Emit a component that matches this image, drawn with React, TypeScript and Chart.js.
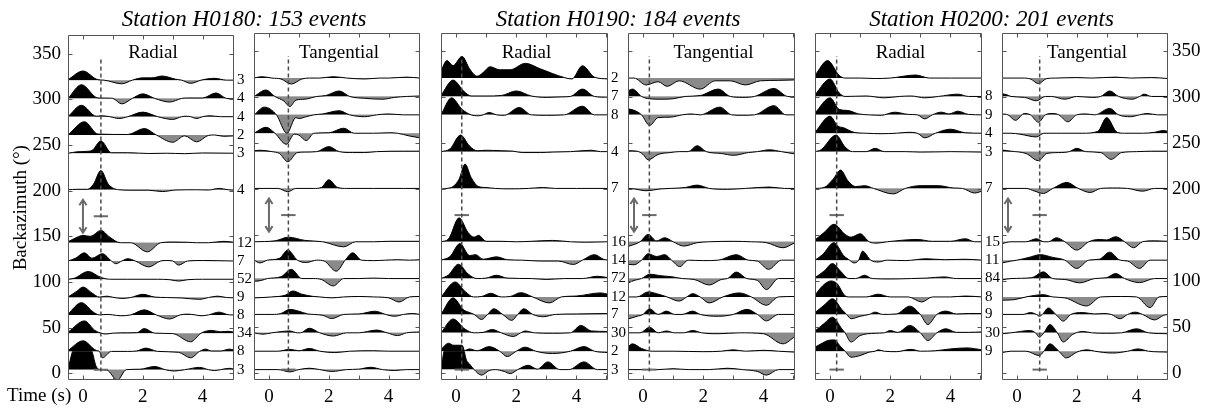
import React, { useEffect, useRef } from 'react';
import { Chart, registerables } from 'chart.js';

Chart.register(...registerables);

// ------------------------------------------------------------------ data
const TIME_RANGE = [-0.5, 5.05];
const BAZ_RANGE = [-7.3, 370];
const TIME_TICKS = [0, 1, 2, 3, 4, 5];
const TIME_LABELS = ['0', '', '2', '', '4', ''];
const BAZ_TICKS = [0, 50, 100, 150, 200, 250, 300, 350];

const STATIONS = ['H0180', 'H0190', 'H0200'];
const EVENT_TOTALS = [153, 184, 201];
const COMPONENTS = ['Radial', 'Tangential'];

// backazimuth bins (baseline of each stacked trace) and number of events
const BAZ_H0180 = [321, 301, 281, 261, 241, 201, 143, 123, 103, 83, 64, 44, 24, 4];
const COUNTS_H0180 = [3, 4, 4, 2, 3, 4, 12, 7, 52, 9, 8, 34, 8, 3];
const BAZ_H0190 = [321, 301, 281, 241, 201, 143, 123, 103, 83, 64, 44, 24, 4];
const COUNTS_H0190 = [2, 7, 8, 4, 7, 16, 14, 72, 12, 7, 30, 2, 3];
const BAZ_H0200 = [321, 301, 281, 261, 241, 201, 143, 123, 103, 83, 64, 44, 24];
const COUNTS_H0200 = [null, 8, 9, 4, 3, 7, 15, 11, 84, 8, 9, 30, 9];

// traces: [time, amplitude, time, amplitude, ...] (amplitude in plotted units)
const RADIAL_H0180 = [
  [-0.5,0.5, 0,10, 0.5,0.5, 0.7,0, 1.3,-4, 1.65,0, 2.0,2.5, 2.3,2.5, 2.65,4.5, 3.1,1, 3.3,0, 3.6,-3.5, 3.95,0, 4.4,2, 4.8,0, 5.05,0],
  [-0.5,0, -0.05,15, 0.5,0.5, 0.9,0.3, 1.0,0, 1.3,-6, 1.65,0, 2.0,5, 2.4,0, 2.9,-4, 3.3,0, 3.5,0.5, 4.0,0.5, 4.45,6, 4.8,0, 5.05,-0.5],
  [-0.5,0, -0.05,12.5, 0.45,0.5, 0.6,1, 0.9,0, 1.2,-2, 1.5,0, 2.0,5, 2.5,0, 3.0,-3, 3.3,0, 3.45,0.5, 3.6,0, 3.8,-2, 4.0,0, 4.25,1, 4.6,0, 5.05,0],
  [-0.5,0, 0.05,14.5, 0.5,1, 1.5,0.5, 2.05,7, 2.45,0, 3.0,-8, 3.4,-1, 3.8,-7.5, 4.2,-0.5, 4.4,0, 4.7,-1.5, 5.05,-1],
  [-0.5,0, -0.2,1.5, 0.1,2, 0.3,3, 0.6,13.5, 0.95,0.5, 1.5,0.5, 2.2,-0.3, 2.8,0, 3.4,-0.5, 4.0,0.3, 5.05,0],
  [-0.5,0, -0.2,0.5, 0.15,0.5, 0.35,6, 0.6,21, 0.85,6, 1.2,0, 1.6,-0.5, 2.2,-0.5, 2.65,-2, 3.1,-0.3, 3.8,0, 4.2,-0.3, 4.55,1.5, 4.85,0, 5.05,-0.5],
  [-0.5,1, -0.2,6, 0,8, 0.25,7, 0.6,13.5, 0.9,6, 1.25,0, 1.6,0, 2.15,-10, 2.6,0, 3.0,0.8, 3.5,0.5, 3.8,0, 4.2,0, 4.7,1.5, 5.05,0.5],
  [-0.5,0, -0.25,3, 0.05,9, 0.3,3, 0.65,8, 0.95,0, 1.1,-3, 1.3,0, 1.5,2.5, 1.75,0, 2.2,-6.5, 2.6,0, 2.8,0.5, 3.0,0, 3.2,-4.5, 3.5,0, 4.0,0.5, 4.5,0.3, 5.05,0],
  [-0.5,0, -0.3,1, 0.18,8.5, 0.6,2, 0.93,0, 1.5,0, 2.5,0, 2.9,-0.5, 3.2,-2, 3.5,-0.5, 4.0,0, 5.05,0],
  [-0.5,0.5, -0.2,7, 0,11.5, 0.3,5, 0.55,0.5, 0.8,1.5, 1.0,0.3, 1.3,-1, 1.6,0, 2.0,3.5, 2.4,0.5, 2.8,0, 3.3,-0.5, 3.9,-2, 4.2,0, 4.5,1.5, 4.8,0, 5.05,-0.3],
  [-0.5,1, -0.05,13.4, 0.35,3, 0.55,0, 0.8,0.5, 1.0,0, 1.25,-1, 1.6,0, 2.05,5.5, 2.45,0, 2.9,-4.5, 3.25,0, 3.5,0.8, 3.75,0, 3.95,-1, 4.2,0, 4.55,3, 4.9,0, 5.05,0],
  [-0.5,1, 0.05,13.4, 0.4,3, 0.6,0, 0.75,-1, 1.0,0, 1.5,0.3, 1.8,0.5, 2.05,5, 2.4,0, 3.0,-0.5, 3.6,-9.5, 3.95,0, 4.3,3, 4.6,1.5, 4.85,2, 5.05,1],
  [-0.5,1, 0,11.6, 0.45,1, 0.55,0, 0.65,-7, 0.95,0, 1.5,0, 1.8,0.5, 2.1,3.6, 2.5,0, 3.2,-1, 3.6,-7, 3.9,0, 4.1,2.5, 4.3,0.5, 4.6,0.5, 4.9,2.5, 5.05,1.5],
  [-0.5,0, -0.35,20, -0.25,26, 0.1,26.5, 0.3,20, 0.45,3, 0.6,0, 0.8,-0.5, 1.15,-11.6, 1.45,0, 1.9,0.5, 2.4,3.5, 2.75,0, 3.05,-1.5, 3.4,0, 3.9,2.5, 4.2,0, 4.4,-1, 4.6,0, 4.9,1.5, 5.05,0.5],
];
const TANGENTIAL_H0180 = [
  [-0.5,0, -0.25,1.5, 0.1,0, 0.4,-1, 0.75,-6.5, 1.1,-1, 1.35,0, 1.7,0, 2.15,1.5, 2.6,0, 3.2,-1, 3.7,0, 4.0,0, 4.6,1, 5.05,0],
  [-0.5,0, -0.1,7, 0.2,0, 0.5,-5, 0.7,-11, 0.9,-4, 1.2,-3, 1.6,0, 1.9,1, 2.35,6, 2.7,0, 3.2,-2, 3.8,-3, 4.2,-1, 4.6,0, 5.05,0.5],
  [-0.5,0, -0.15,8.4, 0.25,0, 0.6,-20, 0.9,-3, 1.0,-4, 1.25,-2, 1.5,0, 1.8,1, 2.35,4.5, 2.7,0, 3.2,-2, 3.6,0, 4.0,1, 4.5,0, 5.05,0],
  [-0.5,0, -0.1,6.5, 0.2,0, 0.58,-12, 0.85,-1, 1.0,-2, 1.25,-8, 1.5,0, 2.0,0.5, 2.5,5.5, 2.85,0, 3.5,0, 4.0,0.5, 4.3,0, 4.7,-3, 5.05,-5],
  [-0.5,1, -0.3,1.5, 0.1,0, 0.35,-2, 0.63,-11, 0.95,-1, 1.2,-0.5, 1.6,0, 2.0,5.5, 2.35,0, 2.8,-1, 3.2,-1, 3.6,0, 4.5,0.5, 5.05,0.5],
  [-0.5,0, 0.3,0, 0.63,-3.6, 0.9,0, 1.5,0, 1.75,1, 2.0,9.4, 2.3,1, 2.6,0, 3.5,0, 4.5,0, 5.05,0],
  [-0.5,0, 0.2,1, 0.65,5, 1.2,1.5, 1.8,0, 2.5,-5.5, 2.9,0, 3.5,0, 4.0,0.5, 5.05,0.5],
  [-0.5,0, -0.3,-3, -0.05,0, 0.35,2, 0.63,11, 0.95,0, 1.25,-2.5, 1.6,0, 1.85,-1, 2.25,-12, 2.55,0, 2.8,8, 3.1,0, 3.5,-0.5, 3.9,0, 4.3,0.5, 4.7,0, 5.05,0.5],
  [-0.5,-3, -0.25,-2, -0.05,0, 0.4,2, 0.75,10, 1.1,0, 1.5,0, 1.75,-1, 2.15,-8, 2.5,0, 3.0,0, 3.5,0.5, 4.0,0, 5.05,0],
  [-0.5,-1, 0.1,0, 0.55,2, 0.8,6.5, 1.1,3, 1.5,0.5, 1.7,0, 2.1,-1, 2.5,0, 3.0,0.5, 3.5,0, 4.0,-1, 4.35,-5.5, 4.7,0, 5.05,0.5],
  [-0.5,0, 0.1,0, 0.4,1, 0.7,5.5, 1.0,3.5, 1.3,0.5, 1.5,0, 1.8,-1, 2.1,-4.5, 2.5,0, 3.0,0.5, 3.55,3.5, 3.9,0, 4.2,-2, 4.5,0, 4.8,1, 5.05,0],
  [-0.5,0, -0.2,-1.5, 0.1,0, 0.7,2, 0.95,0, 1.05,0, 1.35,5, 1.7,0, 2.15,-3.5, 2.6,0, 3.0,0, 3.6,3, 3.95,0, 4.3,-3, 4.6,0, 5.05,1],
  [-0.5,0, 0.3,0, 0.7,2, 1.0,0.5, 1.35,3, 1.7,0, 2.2,-1.5, 2.7,0, 3.5,0.5, 4.0,0, 5.05,0],
  [-0.5,0, 0.3,0, 0.7,-2.5, 1.0,0, 1.35,1.5, 1.7,0, 2.1,-2, 2.6,0, 3.0,0.5, 3.4,2.5, 3.8,0, 4.2,-1, 4.6,0, 5.05,0],
];
const RADIAL_H0190 = [
  [-0.5,8, -0.3,19, -0.1,13.5, 0.2,23.6, 0.45,10, 0.7,2, 0.9,6, 1.13,12.3, 1.45,9, 1.8,9, 2.3,16, 2.8,10, 3.2,5, 3.6,0.5, 3.85,-1, 4.2,13.4, 4.6,1, 5.05,-1],
  [-0.5,1, -0.1,17.8, 0.25,6, 0.5,0.5, 1.0,0.5, 1.5,1, 2.0,6, 2.5,0.5, 3.0,-1, 3.5,-0.5, 3.8,0, 4.2,8, 4.6,0, 5.05,-1],
  [-0.5,0, -0.15,18.5, 0.2,6, 0.5,0, 0.75,-1, 0.9,0, 1.1,2.5, 1.35,0, 1.6,-0.5, 2.1,8, 2.5,0, 3.0,-0.5, 3.6,0, 4.2,9.4, 4.6,0, 5.05,0],
  [-0.5,0, -0.2,3, 0.15,18, 0.45,6, 0.7,1, 1.0,1.5, 1.5,1, 1.9,0.5, 2.2,-1, 2.8,-1, 3.2,-0.5, 3.8,0, 4.5,1.5, 4.8,0, 5.05,0],
  [-0.5,-1, -0.3,0, -0.1,2, 0.1,10, 0.3,26.5, 0.5,12, 0.75,2, 1.0,1, 1.3,0, 1.8,-0.5, 2.4,0, 2.9,1, 3.3,0, 4.0,0, 5.05,0],
  [-0.5,0, -0.25,3, 0.1,26, 0.4,10, 0.6,5, 0.75,7, 1.0,0.5, 1.5,0.5, 2.0,0, 2.5,0.5, 3.2,1.5, 3.8,0, 4.3,-0.5, 5.05,0],
  [-0.5,0, -0.2,4, 0.13,18, 0.45,5, 0.65,6, 0.9,1, 1.35,3.6, 1.7,0.5, 2.2,0, 2.8,-1, 3.4,-1, 3.9,-4.7, 4.2,0, 4.6,6, 4.9,1, 5.05,0],
  [-0.5,0, -0.25,4, 0.08,15.6, 0.4,5, 0.7,0, 1.0,0.5, 1.35,3.6, 1.7,0.5, 2.5,0, 3.0,-1, 3.6,0, 4.2,0, 4.7,2.5, 5.05,1],
  [-0.5,0, -0.03,16.3, 0.3,6, 0.58,0, 0.85,0.5, 1.15,4, 1.5,0, 1.8,0.5, 2.15,4.7, 2.55,0, 3.1,-6.5, 3.5,0, 4.0,1, 4.8,4.4, 5.05,3],
  [-0.5,0, -0.1,18, 0.25,5, 0.45,2, 0.6,0, 0.85,-5.5, 1.05,0, 1.25,6.2, 1.55,0, 1.85,-6.5, 2.05,0, 2.25,6.2, 2.55,0, 2.9,-2.5, 3.3,0, 4.0,0.5, 5.05,1],
  [-0.5,0, -0.1,15, 0.3,4, 0.6,0, 0.9,0.5, 1.2,3.6, 1.5,0, 1.9,-4, 2.15,0, 2.3,2, 2.6,0, 3.2,-0.5, 3.8,0, 4.15,8, 4.5,2, 5.05,1.5],
  [-0.5,2, -0.25,8.7, 0.05,2, 0.25,0.5, 0.45,2.5, 0.7,0.5, 1.1,5, 1.45,0, 1.7,-5.8, 2.0,0, 2.3,4.4, 2.65,0, 3.2,-2.5, 3.8,0, 4.25,5, 4.6,0, 5.05,-1.5],
  [-0.5,0, -0.4,20, -0.3,26.5, 0.2,26.5, 0.35,10, 0.45,6, 0.6,0, 0.85,-6, 1.1,-1, 1.3,0, 1.6,-2, 1.8,-4.4, 2.05,0, 2.4,4.7, 2.7,0.5, 3.05,8.4, 3.45,0, 3.75,0, 4.25,8.4, 4.7,0, 5.05,0],
];
const TANGENTIAL_H0190 = [
  [-0.5,0, -0.3,0, 0.1,-7.5, 0.5,-4, 0.8,-9, 1.2,-3, 1.9,-12, 2.4,-3, 2.9,-3, 3.4,-7.5, 3.9,-3, 4.5,-2.5, 5.05,-2],
  [-0.5,6, -0.35,8, -0.05,0, 0.2,-2.5, 0.6,-3, 1.0,-2.5, 1.4,0, 1.9,1, 2.5,8, 2.9,0, 3.3,-1, 3.7,0, 4.35,8.7, 4.8,0, 5.05,-0.5],
  [-0.5,6.5, -0.3,5, -0.05,0, 0.22,-11.6, 0.5,-3, 0.9,-2.5, 1.3,0, 1.6,1, 1.9,0, 2.55,8.4, 2.95,0, 3.3,-0.5, 3.7,0, 4.35,10, 4.75,0, 5.05,0],
  [-0.5,1, -0.2,0.5, 0.0,-3, 0.17,-9, 0.5,-3, 0.9,-1, 1.2,0, 1.5,0, 1.8,6.5, 2.1,0, 2.6,-2, 3.0,-4, 3.5,-1, 3.8,0, 4.2,2, 4.6,0, 5.05,-2.5],
  [-0.5,0, -0.3,-0.5, 0.1,-2.5, 0.6,-0.5, 0.9,0, 1.4,1, 1.8,3.6, 2.2,0, 2.8,-1, 3.4,0, 4.2,1.5, 4.7,0, 5.05,0],
  [-0.5,-5, -0.3,-3, -0.1,0, 0.17,8, 0.45,1, 0.72,4.4, 1.0,0, 1.35,-4.7, 1.8,-1, 2.2,0, 3.0,0.5, 3.6,0, 4.1,-1, 4.65,-6.5, 5.05,-1],
  [-0.5,-4.5, -0.3,-5, -0.05,0, 0.17,7, 0.45,4, 0.72,6, 0.95,0, 1.22,-7, 1.5,0, 2.0,-0.5, 2.5,0, 3.1,6, 3.5,0, 3.8,-1, 4.17,-10, 4.6,0, 5.05,0],
  [-0.5,-5, -0.3,-2, -0.05,0, 0.22,4.7, 0.6,3, 0.95,2, 1.3,0, 1.7,-1, 2.2,-7, 2.6,-1, 2.8,0, 3.1,7, 3.45,0, 3.8,-2, 4.1,-12, 4.5,0, 5.05,0],
  [-0.5,0, -0.2,0, 0.17,5.5, 0.45,3.6, 0.8,0, 1.2,-4.5, 1.45,0, 1.65,3.6, 1.9,0, 2.2,-6.5, 2.65,0, 3.2,4.4, 3.6,0, 4.1,-9, 4.5,0, 5.05,0.5],
  [-0.5,-5, -0.2,-2, 0.0,0, 0.22,6.2, 0.5,0, 0.78,3.6, 1.05,0, 1.3,0, 1.65,3.6, 1.9,0, 2.5,-2, 3.0,0, 3.45,5.5, 3.8,0, 4.1,-7, 4.5,0, 5.05,0],
  [-0.5,0, -0.1,0, 0.22,6, 0.5,0, 0.78,2, 1.05,0, 1.35,0, 1.65,2.5, 1.95,0, 2.5,-1, 3.2,0, 4.0,-1, 4.65,-12, 5.05,-4],
  [-0.5,5, -0.35,8, -0.05,3, 0.3,0, 1.0,0, 2.0,-0.5, 2.6,0, 3.0,1.5, 3.4,0, 4.0,1, 4.5,0, 5.05,-1],
  [-0.5,0, 0.5,0, 1.0,1, 1.5,0, 2.2,0, 2.8,1.5, 3.3,0, 3.8,-2, 4.1,-6, 4.5,0, 5.05,0],
];
const RADIAL_H0200 = [
  [-0.5,3, -0.08,19, 0.3,3, 0.5,0, 1.0,0, 1.5,-0.5, 2.0,0, 2.85,3.3, 3.3,0, 4.0,0, 5.05,0],
  [-0.5,2, 0,19, 0.3,4, 0.5,0, 1.2,0.5, 1.8,-1.5, 2.3,0, 2.7,0.5, 3.15,-1.5, 3.6,0, 4.25,2.5, 4.6,0, 5.05,0],
  [-0.5,2, 0,18.5, 0.3,6, 0.6,4.7, 0.95,1, 1.3,0, 1.7,-0.5, 2.15,2.9, 2.6,0.5, 2.9,0, 3.15,-4.4, 3.4,0, 3.7,2.9, 3.95,1, 4.25,4, 4.6,0.5, 5.05,0],
  [-0.5,1, 0,18.5, 0.25,8, 0.45,6, 0.8,1, 1.2,0, 1.7,-0.5, 2.2,0, 2.6,1, 2.9,0, 3.15,-5, 3.5,0, 4.0,4.4, 4.5,0.5, 5.05,0],
  [-0.5,0, -0.3,2, 0.2,18, 0.5,5, 0.75,0, 1.2,0, 1.5,3.6, 1.8,0, 2.5,0, 3.0,-0.5, 3.5,-0.3, 4.0,0, 5.05,-0.5],
  [-0.5,0, -0.2,1, 0.1,10, 0.35,20, 0.6,8, 0.85,2, 1.15,3, 1.45,0, 2.1,-6, 2.5,0, 3.0,3, 3.6,3, 4.1,0.5, 4.4,0, 4.8,-5, 5.05,-3],
  [-0.5,2, -0.2,10, 0.13,19, 0.5,8, 0.7,5, 1.0,8.7, 1.3,0, 1.55,-1.5, 1.9,0, 2.9,2.5, 3.4,0.5, 4.0,0.5, 4.5,3.3, 4.8,0, 5.05,0],
  [-0.5,0, -0.25,6, 0.13,19, 0.45,5, 0.65,0, 0.8,-3, 0.95,0, 1.08,9.8, 1.35,0, 1.6,-2, 1.9,0, 2.5,-0.5, 3.2,1.5, 3.8,0.5, 4.5,1, 5.05,0],
  [-0.5,1, -0.2,8, 0.08,16.3, 0.35,8, 0.63,0, 0.85,0, 1.15,3.6, 1.4,0, 2.0,-0.5, 2.7,0, 3.2,0.5, 3.8,1.8, 4.2,0, 5.05,0],
  [-0.5,2, -0.25,12, 0.03,17.4, 0.25,14, 0.45,3, 0.6,0, 1.2,0, 1.6,3, 2.0,0, 2.6,0, 3.05,-5.5, 3.4,0, 4.0,0, 4.5,1, 5.05,0],
  [-0.5,2, -0.2,10, 0.08,17, 0.4,5, 0.55,0, 0.7,-4.7, 1.0,-2, 1.3,0, 1.5,2.5, 1.75,0, 2.2,0.5, 2.65,9, 3.0,0, 3.25,-11, 3.55,0, 3.85,3.6, 4.2,0.5, 4.6,1, 5.05,1],
  [-0.5,2, -0.2,10, 0.08,17, 0.4,4, 0.5,0, 0.7,-10, 1.0,-3, 1.5,-0.5, 1.8,0, 2.0,2.5, 2.25,0.5, 2.65,8, 3.0,0, 3.25,-8.4, 3.55,0, 3.85,4.4, 4.2,0.5, 4.6,0.5, 5.05,1],
  [-0.5,4.4, -0.3,8, -0.08,11.6, 0.15,12.3, 0.35,5, 0.5,0, 0.7,-6.5, 1.0,-4.7, 1.3,-1, 1.5,0, 1.6,1.5, 1.8,0, 2.2,-0.5, 2.7,2, 3.0,0, 3.5,0.5, 4.0,2.5, 4.55,3.6, 5.05,1.5],
];
const TANGENTIAL_H0200 = [
  [-0.5,0, 0.2,0, 0.45,-1, 0.72,-6, 1.0,-0.5, 1.3,0, 2.0,0.5, 2.5,0, 3.3,1, 3.8,0, 4.5,0.5, 5.05,-0.5],
  [-0.5,3, -0.35,2, -0.2,0, 0.25,-1, 0.65,-4.7, 0.95,0, 1.15,0, 1.6,-3, 2.0,0, 2.5,-1, 2.8,0, 3.1,6, 3.4,0, 3.85,-3, 4.1,0, 4.25,2.5, 4.5,0, 5.05,0],
  [-0.5,1, -0.3,0, -0.05,-6, 0.25,1.5, 0.45,0, 0.72,-8, 0.95,0, 1.2,1.5, 1.4,0, 1.7,-7.5, 2.0,0, 2.3,1, 2.6,0, 3.1,7, 3.4,0, 3.8,-2, 4.1,0, 4.35,1.5, 4.7,0, 5.05,0],
  [-0.5,0, -0.2,0, 0.1,-1, 0.65,-4, 0.9,0, 1.5,0, 2.2,0, 2.7,2, 3.0,17, 3.35,1, 3.6,0, 4.2,0, 4.6,1, 4.9,3, 5.05,2],
  [-0.5,1.8, -0.2,0.5, 0.3,-2, 0.72,-9.8, 1.0,-2, 1.4,-1, 1.75,0, 2.0,3.6, 2.3,0, 2.8,-1, 3.15,-8.4, 3.5,-1, 4.0,0, 4.5,0.5, 5.05,0.5],
  [-0.5,0, 0.3,0, 0.6,-3, 0.88,-5.5, 1.2,0, 1.67,6.5, 2.05,0, 2.45,-4.4, 2.8,0, 3.2,0.5, 3.7,0, 4.2,-3, 4.6,0, 5.05,0],
  [-0.5,-2, -0.2,0, 0.3,0, 0.65,3.3, 0.9,0, 1.05,0, 1.32,4.4, 1.6,0, 2.0,-9, 2.4,0, 2.75,2.5, 3.0,2, 3.3,5.5, 3.6,0, 3.9,-6.5, 4.2,0, 4.6,1, 5.05,0.5],
  [-0.5,-3, -0.2,-1, 0.0,0, 0.4,3, 0.78,6, 1.2,3, 1.6,0, 2.0,-9, 2.4,0, 2.75,1, 3.1,8.7, 3.45,0, 3.7,-1, 4.1,-9, 4.45,0, 5.05,0],
  [-0.5,-1.5, -0.2,0, 0.5,1, 0.88,7.3, 1.2,0, 1.6,-1, 2.1,-4.7, 2.6,0, 3.0,1, 3.3,5.5, 3.6,0, 4.1,-4.4, 4.6,0, 5.05,0],
  [-0.5,-3.5, -0.1,-3, 0.3,0, 0.88,2.5, 1.2,0, 1.6,-1, 2.33,-9.8, 2.8,0, 3.5,0.5, 4.0,0, 4.45,-11.6, 4.75,0, 5.05,0.5],
  [-0.5,0, 0.2,0, 0.45,2, 0.65,0, 0.75,-2, 0.85,0, 1.05,7, 1.3,0, 1.55,-7.3, 1.8,0, 2.2,2, 2.6,0.5, 2.9,1, 3.15,0, 3.45,-4.7, 3.7,0, 3.95,2.5, 4.2,0, 4.6,-6, 4.9,-1, 5.05,0],
  [-0.5,-1, -0.2,0, 0.45,2.5, 0.62,0, 0.75,-4.7, 0.9,0, 1.1,9, 1.35,0, 1.55,-10, 1.85,-2, 2.2,1.5, 2.5,0, 3.0,-0.5, 3.5,0, 4.0,4.4, 4.4,0, 5.05,-1],
  [-0.5,-1.5, -0.2,0, 0.3,0, 0.75,-4.7, 0.9,0, 1.1,8, 1.4,0, 1.65,-7.3, 2.0,-1, 2.35,1.5, 2.6,0, 3.2,-2, 3.7,0, 4.05,2.5, 4.4,0, 5.05,-1],
];

// Ps delay (radial, tangential), its error, and amplitude arrows
const PS_DELAY_H0180 = [0.6, 0.65];
const PS_DELAY_H0190 = [0.19, 0.21];
const PS_DELAY_H0200 = [0.22, 0.76];
const DELAY_ERROR = 0.24;
const ERROR_BAR_BAZ = [172, 4];
const DELAY_LINE_BAZ = [2, 345];
const AMP_ARROW_BAZ = [154, 190];
const AMP_ARROW_TIME_H0180 = [0, 0];
const AMP_ARROW_TIME_H0190 = [null, -0.3];
const AMP_ARROW_TIME_H0200 = [null, -0.3];

// ------------------------------------------------------------------ layout / style
const FONT = '"Liberation Serif", "Times New Roman", Times, serif';
const TOP = 33;
const BOTTOM = 380;
const PAD_T = 16;
const PAD_B = 26;
const FRAME = '#555';
const GRAY_FILL = '#8a8a8a';

type Spec = {
  left: number; right: number; padL: number; padR: number;
  baz: number[]; traces: number[][]; delay: number; arrow: number | null;
  leftLabels: boolean; rightKind: 'counts' | 'baz' | 'none'; counts?: (number | null)[];
  component: string;
};

const PANELS: Spec[] = [
  { left: 68, right: 234, padL: 68, padR: 28, baz: BAZ_H0180, traces: RADIAL_H0180, delay: PS_DELAY_H0180[0], arrow: AMP_ARROW_TIME_H0180[0], leftLabels: true, rightKind: 'counts', counts: COUNTS_H0180, component: COMPONENTS[0] },
  { left: 254, right: 420, padL: 6, padR: 6, baz: BAZ_H0180, traces: TANGENTIAL_H0180, delay: PS_DELAY_H0180[1], arrow: AMP_ARROW_TIME_H0180[1], leftLabels: false, rightKind: 'none', component: COMPONENTS[1] },
  { left: 441, right: 608, padL: 6, padR: 28, baz: BAZ_H0190, traces: RADIAL_H0190, delay: PS_DELAY_H0190[0], arrow: AMP_ARROW_TIME_H0190[0], leftLabels: false, rightKind: 'counts', counts: COUNTS_H0190, component: COMPONENTS[0] },
  { left: 628, right: 795, padL: 6, padR: 6, baz: BAZ_H0190, traces: TANGENTIAL_H0190, delay: PS_DELAY_H0190[1], arrow: AMP_ARROW_TIME_H0190[1], leftLabels: false, rightKind: 'none', component: COMPONENTS[1] },
  { left: 815, right: 982, padL: 6, padR: 28, baz: BAZ_H0200, traces: RADIAL_H0200, delay: PS_DELAY_H0200[0], arrow: AMP_ARROW_TIME_H0200[0], leftLabels: false, rightKind: 'counts', counts: COUNTS_H0200, component: COMPONENTS[0] },
  { left: 1002, right: 1168, padL: 6, padR: 43, baz: BAZ_H0200, traces: TANGENTIAL_H0200, delay: PS_DELAY_H0200[1], arrow: AMP_ARROW_TIME_H0200[1], leftLabels: false, rightKind: 'baz', component: COMPONENTS[1] },
];

const framePlugin = {
  id: 'panelFrame',
  afterDatasetsDraw(chart: any) {
    const { ctx, chartArea: a, scales } = chart;
    ctx.save();
    ctx.strokeStyle = FRAME;
    ctx.lineWidth = 1;
    const L = Math.round(a.left) + 0.5, R = Math.round(a.right) - 0.5;
    const T = Math.round(a.top) + 0.5, B = Math.round(a.bottom) - 0.5;
    ctx.beginPath();
    ctx.rect(L, T, R - L, B - T);
    for (const v of TIME_TICKS) {
      const px = Math.round(scales.x.getPixelForValue(v)) + 0.5;
      ctx.moveTo(px, B); ctx.lineTo(px, B - 4);
      ctx.moveTo(px, T); ctx.lineTo(px, T + 4);
    }
    for (const v of BAZ_TICKS) {
      const py = Math.round(scales.y.getPixelForValue(v)) + 0.5;
      ctx.moveTo(L, py); ctx.lineTo(L + 4, py);
      ctx.moveTo(R, py); ctx.lineTo(R - 4, py);
    }
    ctx.stroke();
    ctx.restore();
  },
};

function seg(points: { x: number; y: number }[], color: string, width: number, dash: number[] = []) {
  return {
    data: points, borderColor: color, borderWidth: width, borderDash: dash,
    pointRadius: 0, fill: false, order: 0, borderCapStyle: 'butt',
  };
}

function buildConfig(p: Spec) {
  const datasets: any[] = [];
  datasets.push(seg([{ x: p.delay, y: DELAY_LINE_BAZ[0] }, { x: p.delay, y: DELAY_LINE_BAZ[1] }], '#4a4a4a', 1.5, [4, 3]));
  for (const b of ERROR_BAR_BAZ) {
    datasets.push(seg([{ x: p.delay - DELAY_ERROR, y: b }, { x: p.delay + DELAY_ERROR, y: b }], '#6a6a6a', 2));
  }
  if (p.arrow !== null && p.arrow !== undefined) {
    const t = p.arrow, lo = AMP_ARROW_BAZ[0], hi = AMP_ARROW_BAZ[1];
    const w = 0.12, h = 6;
    datasets.push(seg([{ x: t, y: lo }, { x: t, y: hi }], '#6a6a6a', 2));
    datasets.push(seg([{ x: t - w, y: hi - h }, { x: t, y: hi }, { x: t + w, y: hi - h }], '#6a6a6a', 2));
    datasets.push(seg([{ x: t - w, y: lo + h }, { x: t, y: lo }, { x: t + w, y: lo + h }], '#6a6a6a', 2));
  }
  p.traces.forEach((tr, i) => {
    const base = p.baz[i];
    const pts: { x: number; y: number }[] = [];
    for (let k = 0; k < tr.length; k += 2) pts.push({ x: tr[k], y: base + tr[k + 1] });
    datasets.push({
      data: pts, borderColor: '#000', borderWidth: 1, pointRadius: 0,
      cubicInterpolationMode: 'monotone',
      fill: { target: { value: base }, above: '#000', below: GRAY_FILL },
      order: 1,
    });
  });

  const tickFont = { family: FONT, size: 19, lineHeight: 1.2 };
  const noGrid = { display: false, drawTicks: false, tickLength: 0 };
  const rightTicks = p.rightKind === 'counts' ? p.baz : BAZ_TICKS;
  const rightLabels = p.rightKind === 'counts'
    ? (p.counts || []).map((c) => (c === null || c === undefined ? '' : String(c)))
    : BAZ_TICKS.map(String);

  return {
    type: 'line',
    data: { datasets },
    options: {
      animation: false,
      responsive: false,
      devicePixelRatio: 1,
      events: [],
      layout: { padding: { top: PAD_T, left: 0, right: 0, bottom: 0 } },
      plugins: { legend: { display: false }, tooltip: { enabled: false }, title: { display: false } },
      scales: {
        x: {
          type: 'linear', position: 'bottom', min: TIME_RANGE[0], max: TIME_RANGE[1],
          afterBuildTicks: (s: any) => { s.ticks = TIME_TICKS.map((v) => ({ value: v })); },
          ticks: { font: tickFont, color: '#000', padding: 6, maxRotation: 0, autoSkip: false,
            callback: (_v: any, i: number) => TIME_LABELS[i] },
          grid: noGrid, border: { display: false },
          afterFit: (s: any) => { s.height = PAD_B; },
        },
        y: {
          type: 'linear', position: 'left', min: BAZ_RANGE[0], max: BAZ_RANGE[1],
          afterBuildTicks: (s: any) => { s.ticks = BAZ_TICKS.map((v) => ({ value: v })); },
          ticks: { display: p.leftLabels, font: tickFont, color: '#000', padding: 7, autoSkip: false },
          title: { display: p.leftLabels, text: 'Backazimuth (°)', color: '#000',
            font: { family: FONT, size: 19, lineHeight: 1.2 }, padding: { top: 10, bottom: 0 } },
          grid: noGrid, border: { display: false },
          afterFit: (s: any) => { s.width = p.padL; },
        },
        y2: {
          type: 'linear', position: 'right', min: BAZ_RANGE[0], max: BAZ_RANGE[1],
          afterBuildTicks: (s: any) => { s.ticks = rightTicks.map((v) => ({ value: v })); },
          ticks: {
            display: p.rightKind !== 'none',
            font: p.rightKind === 'counts' ? { family: FONT, size: 15, lineHeight: 1.2 } : tickFont,
            color: '#000', padding: p.rightKind === 'counts' ? 3 : 4, autoSkip: false,
            callback: (_v: any, i: number) => rightLabels[i],
          },
          grid: noGrid, border: { display: false },
          afterFit: (s: any) => { s.width = p.padR; },
        },
      },
    },
    plugins: [framePlugin],
  };
}

function Panel({ spec }: { spec: Spec }) {
  const ref = useRef<HTMLCanvasElement>(null);
  const w = spec.right - spec.left + spec.padL + spec.padR;
  const h = BOTTOM - TOP + PAD_T + PAD_B;
  useEffect(() => {
    const chart = new Chart(ref.current as HTMLCanvasElement, buildConfig(spec) as any);
    return () => chart.destroy();
  }, []);
  return (
    <canvas
      ref={ref}
      width={w}
      height={h}
      style={{ position: 'absolute', left: spec.left - spec.padL, top: TOP - PAD_T, width: w, height: h }}
    />
  );
}

export default function App() {
  return (
    <div style={{ position: 'absolute', left: 0, top: 0, width: 1211, height: 408, overflow: 'hidden', background: '#fff', fontFamily: FONT, color: '#000' }}>
      {PANELS.map((p, i) => <Panel key={i} spec={p} />)}
      {STATIONS.map((s, i) => (
        <div key={s} style={{ position: 'absolute', left: PANELS[2 * i].left, width: PANELS[2 * i + 1].right - PANELS[2 * i].left, top: 7, textAlign: 'center', fontStyle: 'italic', fontSize: 23, lineHeight: 1, whiteSpace: 'nowrap' }}>
          {`Station ${s}: ${EVENT_TOTALS[i]} events`}
        </div>
      ))}
      {PANELS.map((p, i) => (
        <div key={'c' + i} style={{ position: 'absolute', left: p.left + 2, width: p.right - p.left, top: 42, textAlign: 'center', fontSize: 19, lineHeight: 1, whiteSpace: 'nowrap' }}>
          {p.component}
        </div>
      ))}
      <div style={{ position: 'absolute', left: 7, top: 385, fontSize: 19, lineHeight: 1, whiteSpace: 'nowrap' }}>Time (s)</div>
    </div>
  );
}
